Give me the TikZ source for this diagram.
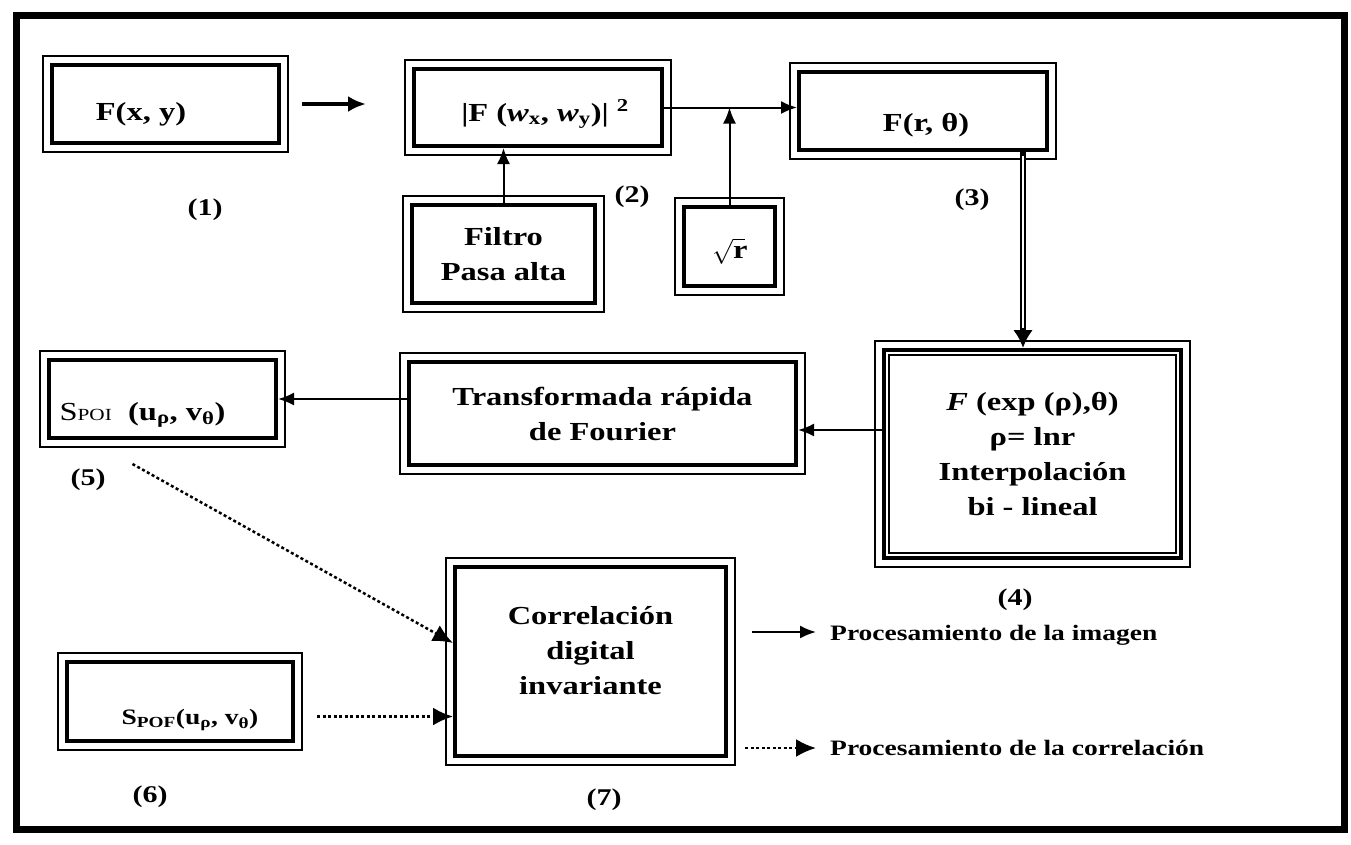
\documentclass[tikz,border=0pt]{standalone}
\usepackage{fontspec}
\setmainfont{Liberation Serif}[FakeStretch=1.25]
\usetikzlibrary{arrows.meta,calc}
\newcommand\tx[3]{\raisebox{-#2}[0pt][0pt]{\makebox[0pt]{\hspace*{#1}#3\hspace*{-#1}}}}
\begin{document}
\begin{tikzpicture}[x=1pt,y=-1pt,
  box/.style={draw, line width=4pt, rectangle, inner sep=0pt, align=center,
    font=\bfseries\fontsize{26}{35}\selectfont},
  lab/.style={font=\bfseries\fontsize{24}{24}\selectfont, inner sep=0pt},
  leg/.style={font=\bfseries\fontsize{22}{22}\selectfont, inner sep=0pt, anchor=west},
  arr/.style={line width=2pt, -{Latex[length=16pt,width=13pt]}},
  tarr/.style={line width=4pt, -{Latex[length=18pt,width=16pt]}},
  darr/.style={line width=2.5pt, dash pattern=on 3pt off 2.5pt, -{Latex[length=20pt,width=18pt]}}
]
\useasboundingbox (0,0) rectangle (1351,844);
\draw[line width=7pt] (16,15) rectangle (1344,829);

\node[box, minimum width=227pt, minimum height=78pt] (b1) at (165.5,104) {\tx{-24.5pt}{16pt}{F(x, y)}};
\node[box, minimum width=248pt, minimum height=77pt] (b2) at (538,107.5) {\tx{7pt}{13.5pt}{|F (\textit{w}\textsubscript{x}, \textit{w}\textsubscript{y})| \textsuperscript{2}}};
\node[box, minimum width=183pt, minimum height=98pt] (filt) at (503.5,254) {Filtro\\Pasa alta};
\node[box, minimum width=91pt, minimum height=79pt] (sq) at (729.5,246.5) {\tx{-1pt}{12pt}{$\sqrt{\mathbf{r}}$}};
\node[box, minimum width=248pt, minimum height=78pt] (b3) at (923,111) {\tx{3pt}{20pt}{F(r, θ)}};
\node[box, minimum width=297pt, minimum height=208pt] (b4) at (1032.5,454) {\textit{F} (exp (ρ),θ)\\ρ= lnr\\Interpolación\\bi - lineal};
\node[box, minimum width=387pt, minimum height=103pt] (fft) at (602.5,413.5) {Transformada rápida\\de Fourier};
\node[box, minimum width=227pt, minimum height=78pt] (b5) at (162.5,399) {\tx{-20pt}{21pt}{{\mdseries S{\fontsize{17}{17}\selectfont POI}}\ \ (u\textsubscript{ρ}, v\textsubscript{θ})}};
\node[box, minimum width=271pt, minimum height=189pt] (b7) at (590.5,661.5) {Correlación\\digital\\invariante\\[-12pt]};
\node[box, minimum width=226pt, minimum height=79pt, font=\bfseries\fontsize{22}{26}\selectfont] (b6) at (180,701.5) {\tx{10pt}{23pt}{S\textsubscript{POF}(u\textsubscript{ρ}, v\textsubscript{θ})}};

\foreach \n in {b1,b2,filt,sq,b3,b4,fft,b5,b7,b6}
  \draw[line width=1.2pt] ([shift={(-7pt,7pt)}]\n.north west) rectangle ([shift={(7pt,-7pt)}]\n.south east);
\draw[line width=1.2pt] ([shift={(7pt,-7pt)}]b4.north west) rectangle ([shift={(-7pt,7pt)}]b4.south east);

% connectors
\draw[tarr, shorten <=21pt, shorten >=46pt] (b1.east) -- (b1.east -| b2.west);
\draw[arr] (b2.east) -- (b2.east -| b3.west);
\coordinate (j) at (sq.north |- b2.east);
\draw[arr] (sq.north) -- (j);
\draw[arr] (filt.north) -- (filt.north |- b2.south);
\coordinate (d) at ([xshift=100pt]b3.south);
\draw[line width=6pt, -{Latex[length=18pt,width=20pt]}] (d) -- (d |- b4.north);
\draw[white, line width=1.5pt, shorten <=4pt, shorten >=20pt] (d) -- (d |- b4.north);
\coordinate (fe) at ([yshift=-16.5pt]fft.east);
\draw[arr] (fe -| b4.west) -- (fe);
\draw[arr] (fft.west |- b5.east) -- (b5.east);
\coordinate (s5) at ([xshift=-30pt,yshift=-24pt]b5.south);
\coordinate (e7) at ([yshift=18.5pt]b7.west);
\draw[darr] (s5) -- (e7);
\coordinate (e6) at ([yshift=-15pt]b6.east);
\draw[darr, shorten <=22pt] (e6) -- (e6 -| b7.west);

% labels
\node[lab] (l1) at (205,210) {(1)};
\node[lab] (l2) at (632,197) {(2)};
\node[lab] (l3) at (972,200) {(3)};
\node[lab] (l4) at (1015,600) {(4)};
\node[lab] (l5) at (88,480) {(5)};
\node[lab] (l6) at (150,797) {(6)};
\node[lab] (l7) at (604,800) {(7)};

% legend
\node[leg] (g1) at (830,635) {Procesamiento de la imagen};
\node[leg] (g2) at (830,748) {Procesamiento de la correlación};
\draw[arr] ([xshift=-78pt,yshift=3pt]g1.west) -- ([xshift=-14pt,yshift=3pt]g1.west);
\draw[darr] ([xshift=-85pt]g2.west) -- ([xshift=-14pt]g2.west);
\end{tikzpicture}
\end{document}
